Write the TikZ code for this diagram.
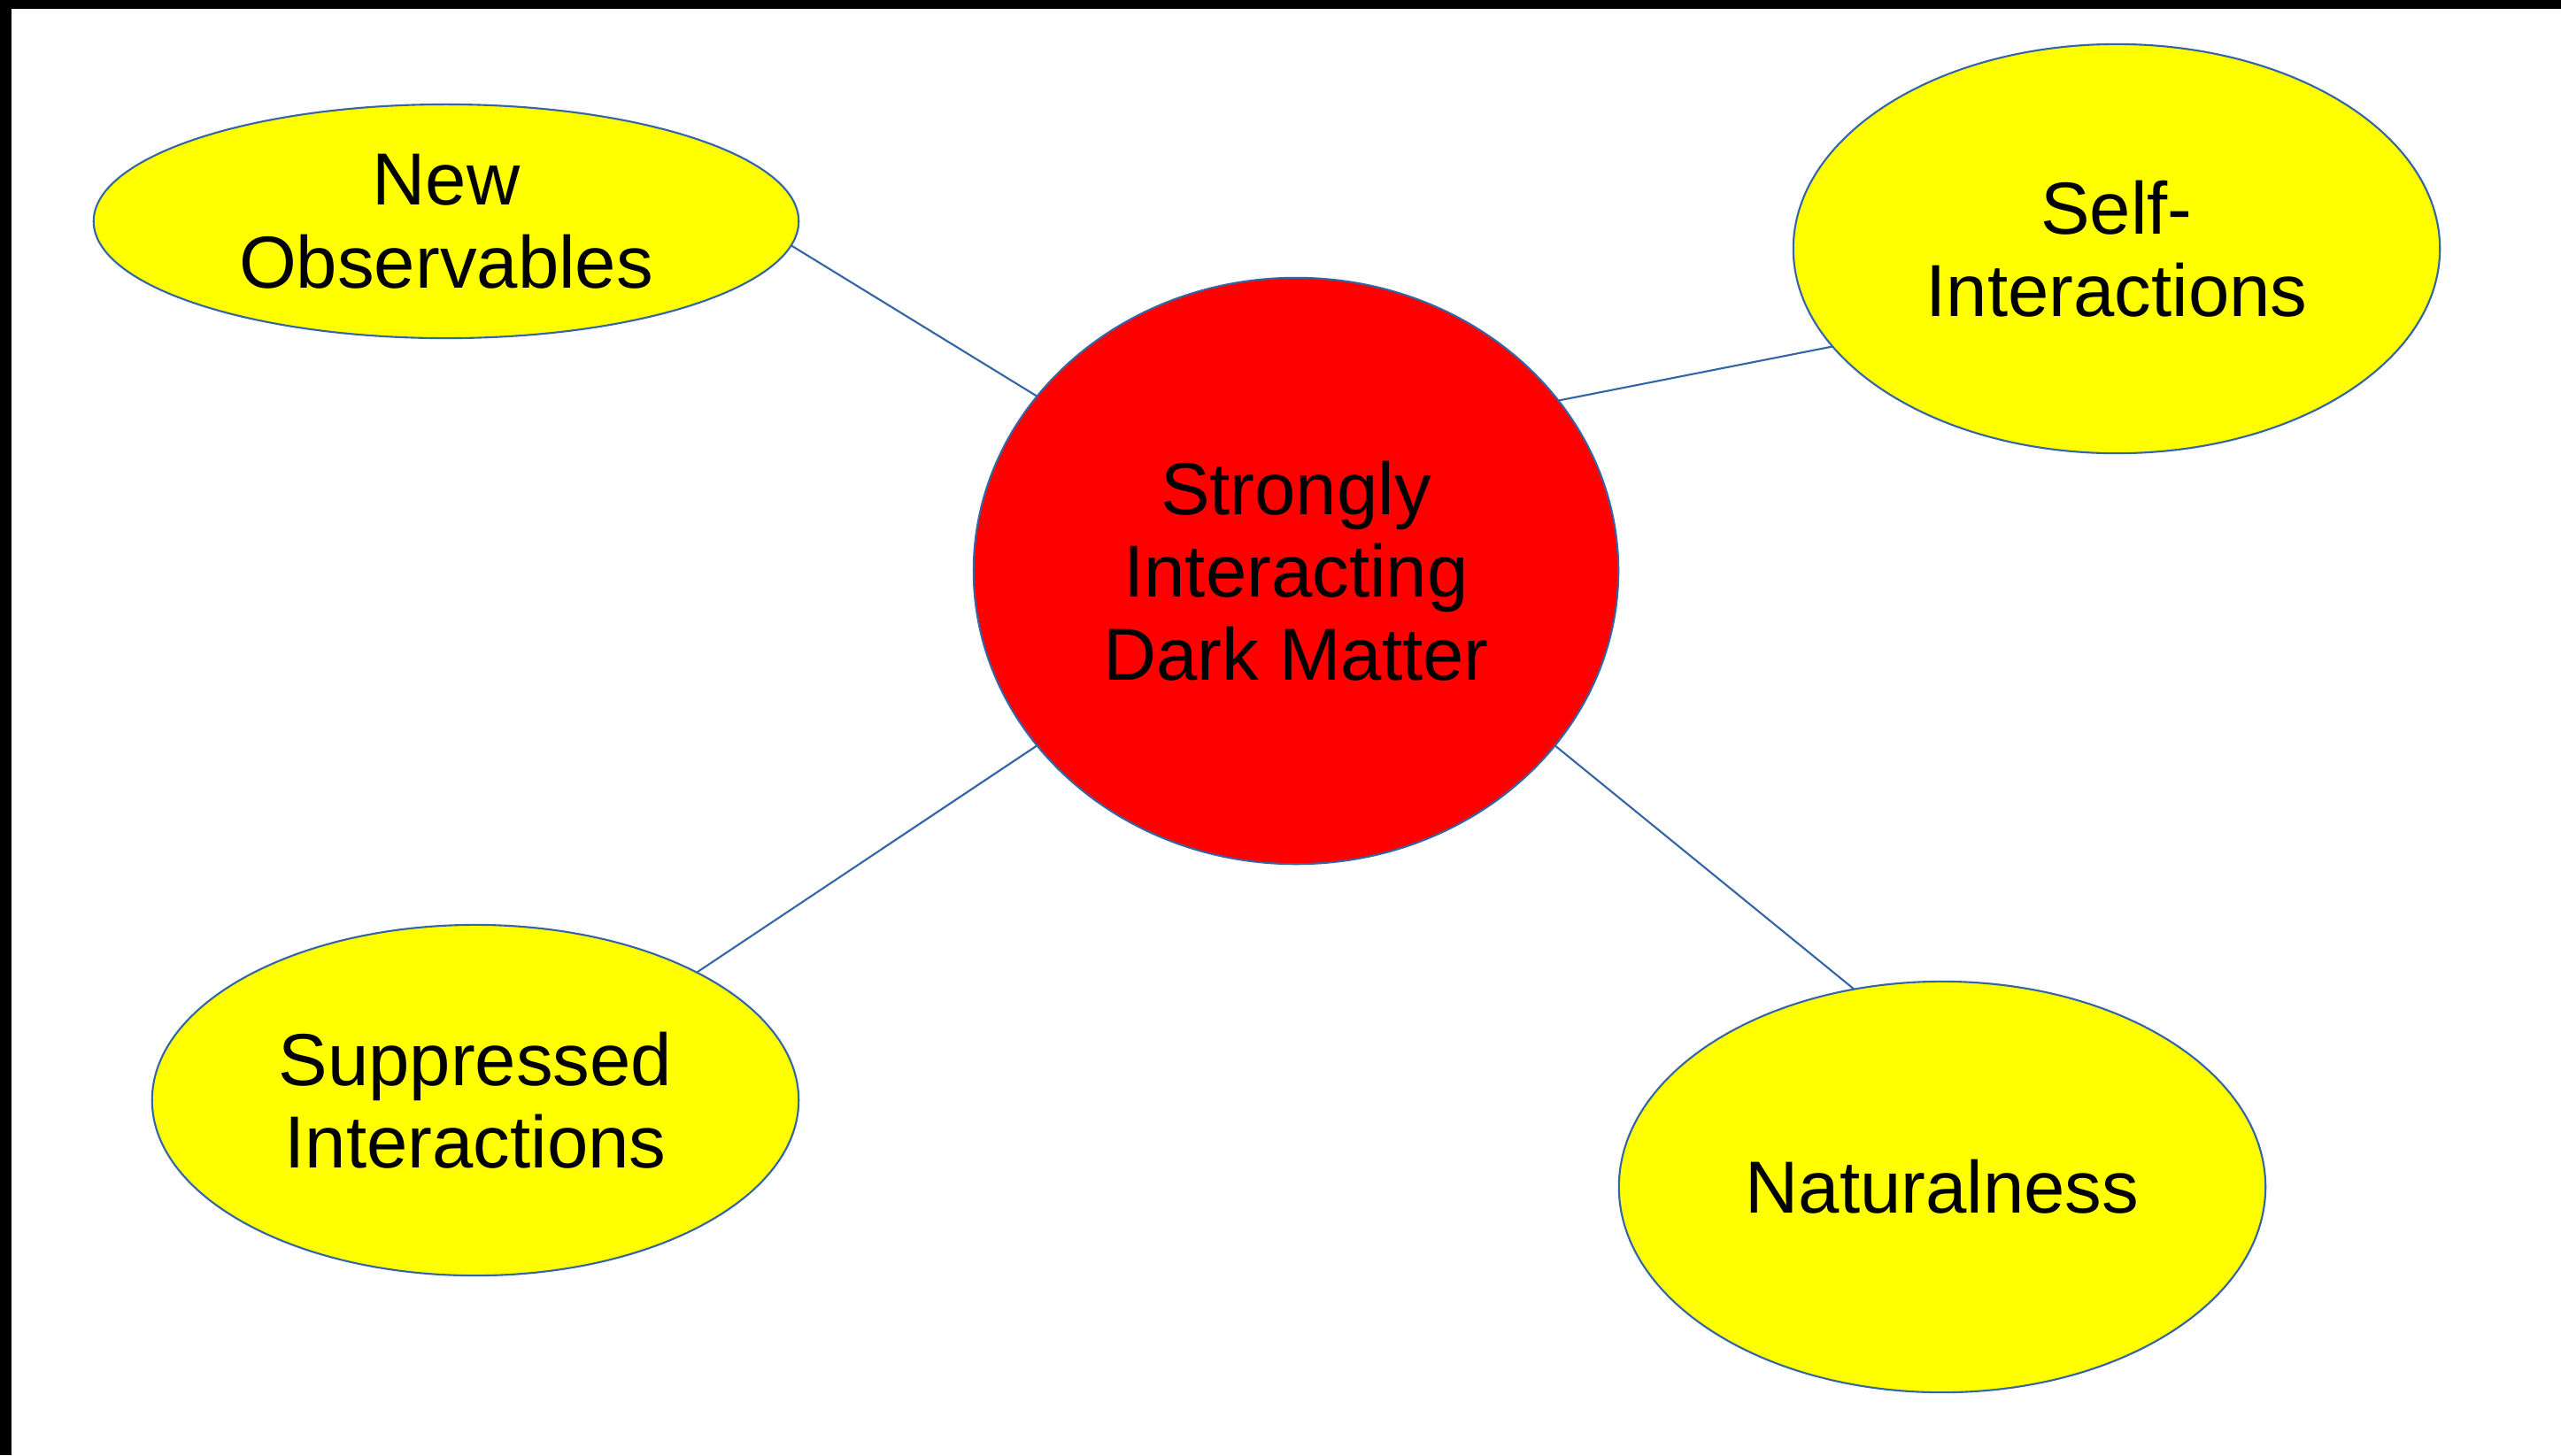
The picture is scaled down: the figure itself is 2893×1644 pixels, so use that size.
\documentclass[tikz,border=0pt]{standalone}
\usepackage{fontspec}
\setmainfont{Liberation Sans}
\usetikzlibrary{shapes.geometric}
\definecolor{lineblue}{HTML}{3465A4}
\definecolor{fillyellow}{HTML}{FFFF00}
\definecolor{fillred}{HTML}{FF0000}
\tikzset{
  bubble/.style={ellipse, draw=lineblue, line width=0.6pt, fill=fillyellow, inner sep=0pt, outer sep=0pt,
    align=center, font=\fontsize{23.7}{26.6}\selectfont, text=black},
  hub/.style={bubble, fill=fillred},
  conn/.style={draw=lineblue, line width=0.6pt}
}
\begin{document}
\begin{tikzpicture}[x=0.01cm, y=-0.01cm]
\useasboundingbox (0,0) rectangle (2893,1644);
\fill[white] (0,0) rectangle (2893,1644);
\fill[black] (0,0) rectangle (2893,10);
\fill[black] (0,0) rectangle (13,1644);

\node[hub, minimum width=7.28cm, minimum height=6.62cm] (c) at (1464,645) {Strongly\\Interacting\\Dark Matter};
\node[bubble, minimum width=7.96cm, minimum height=2.64cm] (no) at (504,250) {New\\Observables};
\node[bubble, minimum width=7.30cm, minimum height=4.62cm] (si) at (2391,281) {Self-\\Interactions};
\node[bubble, minimum width=7.30cm, minimum height=3.96cm] (sp) at (537,1243) {Suppressed\\Interactions};
\node[bubble, minimum width=7.30cm, minimum height=4.64cm] (na) at (2194,1341) {Naturalness};

\draw[conn] (no.-4.7) -- (c.146.4);
\draw[conn] (si.-161.9) -- (c.33.2);
\draw[conn] (sp.30.4) -- (c.214.4);
\draw[conn] (na.114.7) -- (c.-34.2);
\end{tikzpicture}
\end{document}
